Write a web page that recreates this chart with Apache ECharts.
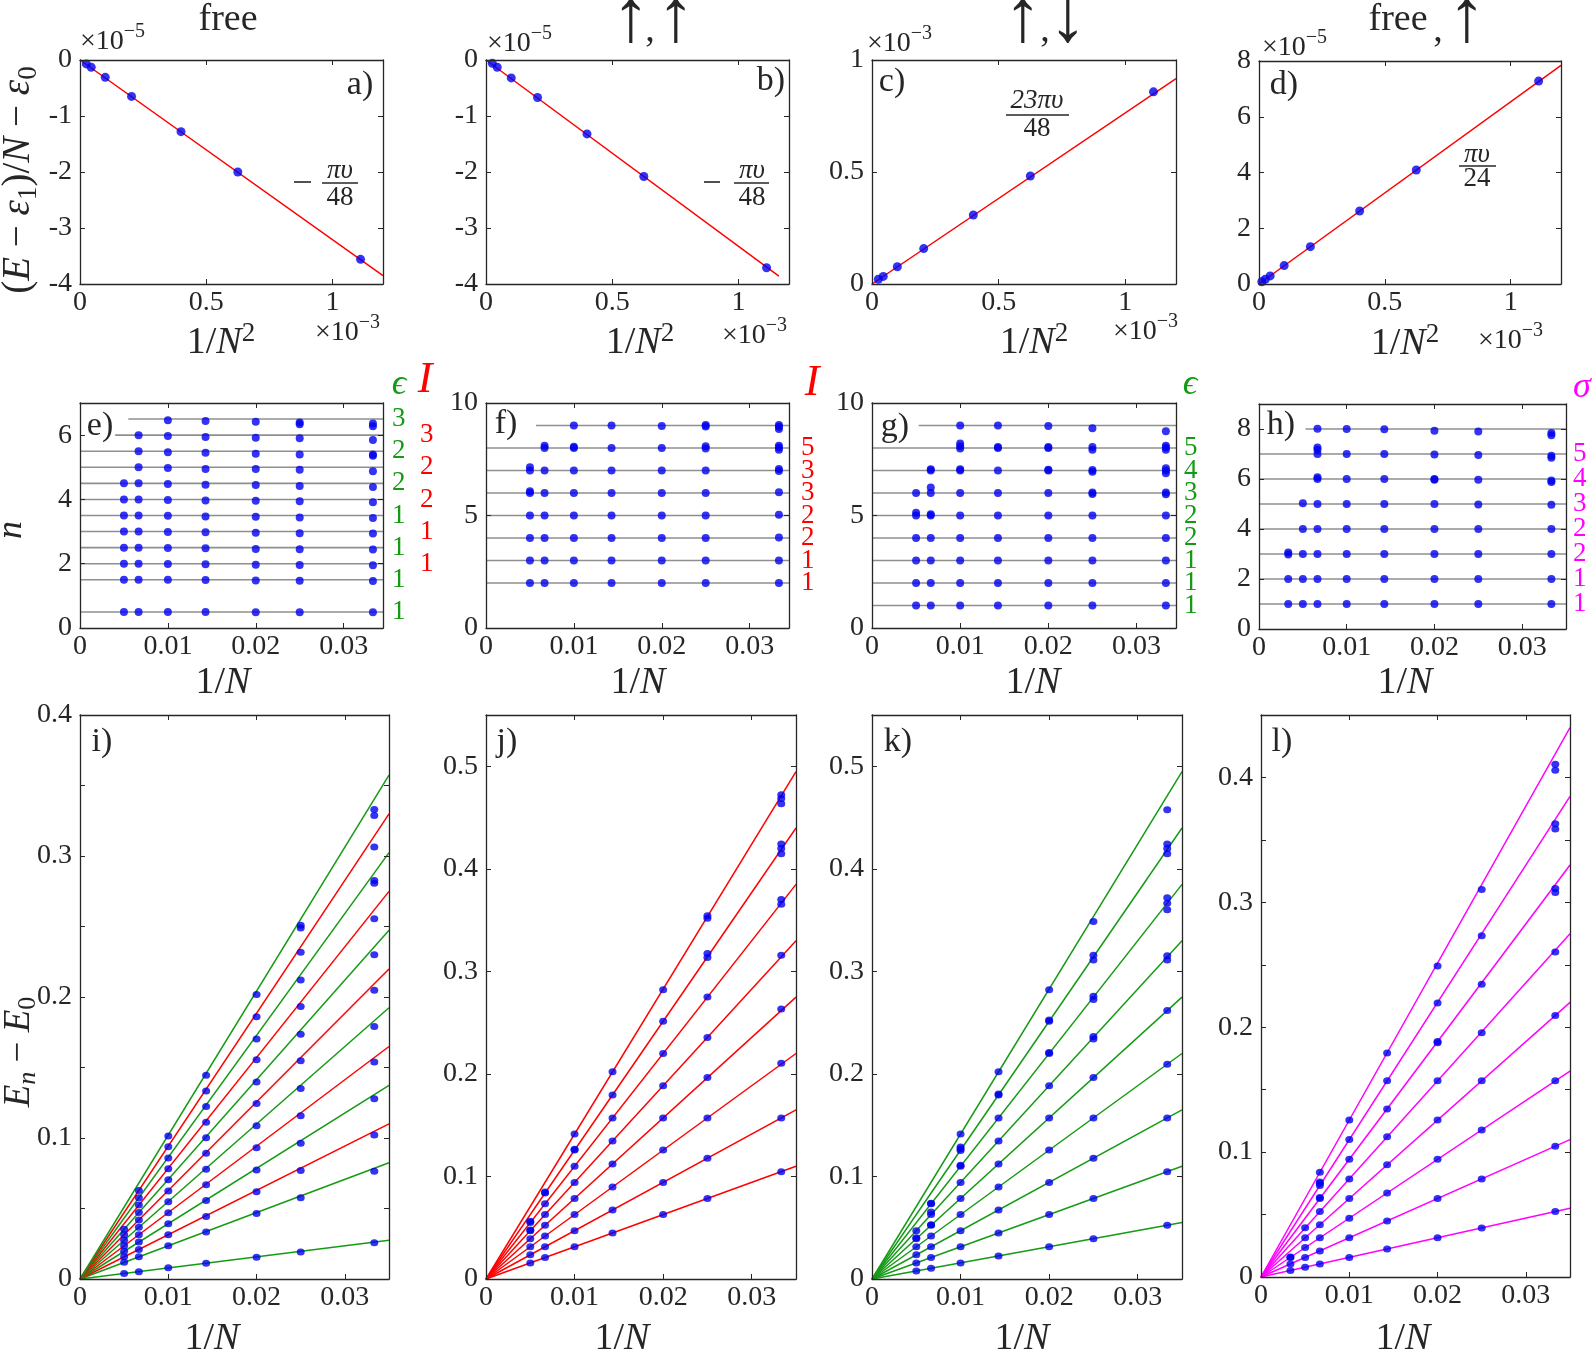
<!DOCTYPE html>
<html><head><meta charset="utf-8">
<script src="https://cdn.jsdelivr.net/npm/echarts@6/dist/echarts.min.js"></script>
<style>html,body{margin:0;padding:0;background:#fff}#c{width:1594px;height:1358px}</style>
</head><body><div id="c"></div>
<script>
const FONT = "'Liberation Serif','Times New Roman',Times,serif";
const INK = '#262626';
const BLUE = '#0000ee';
const RED = '#ff0000';
const GREEN = '#159a15';
const MAG = '#ff00ff';
const GRAY = '#8f8f8f';

// ================= DATA =================
// top row: x = 1/N^2  (N = 30,40,50,70,100,150,200 ; panel d also N = 300)
const topX = [1.1111e-3, 6.25e-4, 4.0e-4, 2.041e-4, 1.0e-4, 4.444e-5, 2.5e-5];
const dX   = [1.1111e-3, 6.25e-4, 4.0e-4, 2.041e-4, 1.0e-4, 4.444e-5, 2.5e-5, 1.111e-5];
const aY = [-3.56e-5, -2.00e-5, -1.28e-5, -0.65e-5, -0.31e-5, -0.13e-5, -0.07e-5];
const bY = [-3.71e-5, -2.08e-5, -1.32e-5, -0.67e-5, -0.32e-5, -0.13e-5, -0.06e-5];
const cY = [0.858e-3, 0.482e-3, 0.308e-3, 0.158e-3, 0.077e-3, 0.034e-3, 0.021e-3];
const dY = [7.28e-5, 4.09e-5, 2.62e-5, 1.34e-5, 0.66e-5, 0.29e-5, 0.17e-5, 0.08e-5];
const aFit = [[0, 0], [1.2e-3, -3.85e-5]];
const bFit = [[0, 0], [1.16e-3, -3.86e-5]];
const cFit = [[0, 0], [1.2e-3, 0.917e-3]];
const dFit = [[0, 0], [1.2e-3, 7.84e-5]];

// rows 2-3: x = 1/N
const colX7 = [0.005, 0.006667, 0.01, 0.014286, 0.02, 0.025, 0.033333];
const colX8 = [0.003333, 0.005, 0.006667, 0.01, 0.014286, 0.02, 0.025, 0.033333];

// scaled levels n (panels e-h), one list per column
const eN = [
  [0.5, 1.5, 2.0, 2.5, 3.0, 3.5, 4.0, 4.5],
  [0.5, 1.5, 2.0, 2.5, 3.0, 3.5, 4.0, 4.5, 5.0, 5.5, 6.0],
  [0.5, 1.5, 1.99, 2.49, 2.99, 3.49, 3.98, 4.48, 4.98, 5.47, 5.97, 6.46],
  [0.5, 1.49, 1.98, 2.48, 2.98, 3.47, 3.97, 4.46, 4.95, 5.45, 5.94, 6.44],
  [0.49, 1.48, 1.97, 2.46, 2.96, 3.46, 3.96, 4.45, 4.95, 5.42, 5.92, 6.42],
  [0.49, 1.47, 1.96, 2.45, 2.95, 3.44, 3.94, 4.42, 4.92, 5.40, 5.90, 6.39, 6.34],
  [0.49, 1.46, 1.95, 2.44, 2.94, 3.42, 3.91, 4.39, 4.88, 5.40, 5.36, 5.85, 6.36, 6.28]
];
const fN = [
  [2.0, 3.0, 4.0, 5.0, 6.0, 6.08, 7.0, 7.15],
  [2.0, 3.0, 4.0, 5.0, 6.0, 7.0, 8.0, 8.1],
  [2.0, 3.0, 4.0, 5.0, 6.0, 7.0, 8.0, 8.06, 9.0],
  [2.0, 3.0, 4.0, 5.0, 6.0, 7.0, 8.0, 9.0],
  [2.0, 3.0, 4.0, 5.0, 6.0, 7.0, 8.0, 8.98],
  [2.0, 3.0, 4.0, 5.0, 6.0, 7.0, 7.98, 8.08, 8.96, 9.02],
  [2.0, 3.0, 4.02, 5.03, 6.03, 6.98, 7.07, 7.92, 8.02, 8.1, 8.85, 8.95, 9.02]
];
const gN = [
  [1.0, 2.0, 3.0, 4.0, 5.0, 5.12, 6.0],
  [1.0, 2.0, 3.0, 4.0, 5.0, 5.06, 6.0, 6.25, 7.0, 7.06],
  [1.0, 2.0, 3.0, 4.0, 5.0, 6.0, 7.0, 7.06, 7.98, 8.08, 8.2, 9.0],
  [1.0, 2.0, 3.0, 4.0, 5.0, 6.0, 7.0, 8.0, 8.04, 9.0],
  [1.0, 2.0, 3.0, 4.0, 5.0, 6.0, 7.0, 7.03, 8.0, 8.04, 8.98],
  [1.0, 2.0, 3.0, 4.0, 5.0, 5.96, 6.02, 6.94, 7.02, 7.92, 8.04, 8.88],
  [1.0, 2.0, 3.0, 4.0, 5.0, 5.94, 6.02, 6.88, 7.0, 7.1, 7.92, 8.02, 8.1, 8.74]
];
const hN = [
  [1.0, 2.0, 2.98, 3.06],
  [1.0, 2.0, 3.0, 4.0, 5.03],
  [1.0, 2.0, 3.0, 4.0, 5.0, 6.0, 6.07, 7.0, 7.17, 7.26, 8.01],
  [1.0, 2.0, 3.0, 4.0, 5.0, 6.0, 7.0, 8.0],
  [1.0, 2.0, 3.0, 4.0, 5.0, 6.0, 7.0, 7.99],
  [1.0, 2.0, 3.0, 4.0, 5.0, 6.0, 5.97, 6.98, 7.93],
  [1.0, 2.0, 3.0, 4.0, 4.98, 5.97, 6.96, 7.9],
  [1.0, 2.0, 3.0, 4.0, 4.97, 5.94, 5.88, 6.93, 6.85, 7.84, 7.75]
];

// gaps E_n - E_0 (panels i-l), one list per column
const iE = [
  [0.0039, 0.0118, 0.0157, 0.0196, 0.0236, 0.0275, 0.0314, 0.0353],
  [0.0052, 0.0157, 0.0209, 0.0262, 0.0314, 0.0367, 0.0419, 0.0471, 0.0524, 0.0576, 0.0628],
  [0.0079, 0.0236, 0.0313, 0.0391, 0.0470, 0.0548, 0.0625, 0.0704, 0.0782, 0.0859, 0.0938, 0.1015],
  [0.0112, 0.0334, 0.0444, 0.0557, 0.0669, 0.0779, 0.0891, 0.1001, 0.1111, 0.1223, 0.1333, 0.1445],
  [0.0154, 0.0465, 0.0619, 0.0773, 0.0930, 0.1087, 0.1244, 0.1398, 0.1555, 0.1703, 0.1860, 0.2017],
  [0.0192, 0.0577, 0.0770, 0.0962, 0.1158, 0.1351, 0.1547, 0.1736, 0.1932, 0.2121, 0.2317, 0.2509, 0.2490],
  [0.0257, 0.0764, 0.1021, 0.1278, 0.1539, 0.1791, 0.2047, 0.2299, 0.2555, 0.2827, 0.2806, 0.3063, 0.3330, 0.3288]
];
const jE = [
  [0.0157, 0.0236, 0.0314, 0.0393, 0.0471, 0.0478, 0.0550, 0.0562],
  [0.0209, 0.0314, 0.0419, 0.0524, 0.0628, 0.0733, 0.0838, 0.0848],
  [0.0314, 0.0471, 0.0628, 0.0785, 0.0942, 0.1100, 0.1257, 0.1266, 0.1414],
  [0.0449, 0.0673, 0.0898, 0.1122, 0.1346, 0.1571, 0.1795, 0.2020],
  [0.0628, 0.0942, 0.1257, 0.1571, 0.1885, 0.2199, 0.2513, 0.2821],
  [0.0785, 0.1178, 0.1571, 0.1964, 0.2356, 0.2749, 0.3134, 0.3173, 0.3519, 0.3542],
  [0.1047, 0.1571, 0.2105, 0.2634, 0.3157, 0.3655, 0.3702, 0.4147, 0.4199, 0.4241, 0.4634, 0.4686, 0.4723]
];
const kE = [
  [0.0079, 0.0157, 0.0236, 0.0314, 0.0393, 0.0402, 0.0471],
  [0.0105, 0.0209, 0.0314, 0.0419, 0.0524, 0.0530, 0.0628, 0.0654, 0.0733, 0.0739],
  [0.0157, 0.0314, 0.0471, 0.0628, 0.0785, 0.0942, 0.1100, 0.1109, 0.1253, 0.1269, 0.1288, 0.1414],
  [0.0224, 0.0449, 0.0673, 0.0898, 0.1122, 0.1346, 0.1571, 0.1795, 0.1804, 0.2020],
  [0.0314, 0.0628, 0.0942, 0.1257, 0.1571, 0.1885, 0.2199, 0.2208, 0.2513, 0.2526, 0.2821],
  [0.0393, 0.0785, 0.1178, 0.1571, 0.1964, 0.2341, 0.2364, 0.2725, 0.2757, 0.3110, 0.3157, 0.3487],
  [0.0524, 0.1047, 0.1571, 0.2094, 0.2618, 0.3110, 0.3152, 0.3602, 0.3665, 0.3718, 0.4147, 0.4199, 0.4241, 0.4576]
];
const lE = [
  [0.0052, 0.0105, 0.0156, 0.0160],
  [0.0079, 0.0157, 0.0236, 0.0314, 0.0395],
  [0.0105, 0.0209, 0.0314, 0.0419, 0.0524, 0.0628, 0.0636, 0.0733, 0.0751, 0.0760, 0.0839],
  [0.0157, 0.0314, 0.0471, 0.0628, 0.0785, 0.0942, 0.1100, 0.1257],
  [0.0224, 0.0449, 0.0673, 0.0898, 0.1122, 0.1346, 0.1571, 0.1793],
  [0.0314, 0.0628, 0.0942, 0.1257, 0.1571, 0.1885, 0.1876, 0.2193, 0.2491],
  [0.0393, 0.0785, 0.1178, 0.1571, 0.1956, 0.2344, 0.2733, 0.3102],
  [0.0524, 0.1047, 0.1571, 0.2094, 0.2602, 0.3110, 0.3079, 0.3629, 0.3587, 0.4105, 0.4058]
];

// reference levels (gray lines, panels e-h) and where each line starts
const eLevels = [0.5, 1.5, 2, 2.5, 3, 3.5, 4, 4.5, 5, 5.5, 6, 6.5];
const eLevelStart = [0, 0, 0, 0, 0, 0, 0, 0, 0, 0, 0.004, 0.0055];
const fLevels = [2, 3, 4, 5, 6, 7, 8, 9];
const fLevelStart = [0, 0, 0, 0, 0, 0, 0, 0.0057];
const gLevels = [1, 2, 3, 4, 5, 6, 7, 8, 9];
const gLevelStart = [0, 0, 0, 0, 0, 0, 0, 0, 0.0053];
const hLevels = [1, 2, 3, 4, 5, 6, 7, 8];
const hLevelStart = [0, 0, 0, 0, 0, 0, 0, 0.0053];
const levelEndEFG = 0.03448;
const levelEndH = 0.035;

// straight lines through the origin (panels i-l): value at x = 0.035
const fitEndX = 0.035;
const iFitEnd = [0.0275, 0.0825, 0.1100, 0.1374, 0.1649, 0.1924, 0.2199, 0.2474, 0.2749, 0.3024, 0.3299, 0.3574];
const jFitEnd = [0.1100, 0.1649, 0.2199, 0.2749, 0.3299, 0.3848, 0.4398, 0.4948];
const kFitEnd = [0.0550, 0.1100, 0.1649, 0.2199, 0.2749, 0.3299, 0.3848, 0.4398, 0.4948];
const lFitEnd = [0.0550, 0.1100, 0.1649, 0.2199, 0.2749, 0.3299, 0.3848, 0.4398];

// degeneracy labels at the right of panels e-h
const eEpsAt = [0.5, 1.5, 2.5, 3.5, 4.5, 5.5, 6.5], eEpsTxt = ['1', '1', '1', '1', '2', '2', '3'];
const eIAt = [2, 3, 4, 5, 6], eITxt = ['1', '1', '2', '2', '3'];
const fIAt = [2, 3, 4, 5, 6, 7, 8], fITxt = ['1', '1', '2', '2', '3', '3', '5'];
const gEpsAt = [1, 2, 3, 4, 5, 6, 7, 8], gEpsTxt = ['1', '1', '1', '2', '2', '3', '4', '5'];
const hSigAt = [1, 2, 3, 4, 5, 6, 7], hSigTxt = ['1', '1', '2', '2', '3', '4', '5'];

// ================= BUILD =================
const grids = [
  {left: 80, top: 60, width: 303, height: 224},
  {left: 486, top: 60, width: 303, height: 224},
  {left: 872, top: 60, width: 304, height: 224},
  {left: 1259, top: 61, width: 302, height: 223},
  {left: 80, top: 403, width: 303, height: 225},
  {left: 486, top: 403, width: 303, height: 225},
  {left: 872, top: 403, width: 304, height: 225},
  {left: 1259, top: 404, width: 307, height: 225},
  {left: 80, top: 715, width: 309, height: 564},
  {left: 486, top: 715, width: 310, height: 564},
  {left: 872, top: 715, width: 310, height: 564},
  {left: 1261, top: 715, width: 309, height: 562}
];

const TICK_FS = 28;

function mk(scale, step) {
  return function (v) {
    const s = v * scale / step;
    const r = Math.round(s);
    if (Math.abs(s - r) > 1e-4) return '';
    const val = r * step;
    return Math.abs(val) < 1e-9 ? '0' : String(parseFloat(val.toFixed(6)));
  };
}

const xAxis = [], yAxis = [], series = [], graphic = [];

function axisCfg(gi, s, pos, showLabel, margin) {
  return {
    gridIndex: gi, type: 'value', position: pos, min: s.min, max: s.max, interval: s.interval,
    axisLine: {show: true, onZero: false, lineStyle: {color: INK, width: 1.3}},
    axisTick: {show: true, inside: true, length: 5, lineStyle: {color: INK, width: 1}},
    splitLine: {show: false},
    axisLabel: {show: showLabel, formatter: s.fmt, color: INK, fontFamily: FONT, fontSize: TICK_FS, margin: margin},
    z: 10
  };
}
function panel(gi, xs, ys) {
  const ix = xAxis.length, iy = yAxis.length;
  xAxis.push(axisCfg(gi, xs, 'bottom', true, 5), axisCfg(gi, xs, 'top', false, 5));
  yAxis.push(axisCfg(gi, ys, 'left', true, 8), axisCfg(gi, ys, 'right', false, 8));
  return {x: ix, y: iy};
}
function labelAxis(gi, min, max, step, at, txt, color, margin) {
  yAxis.push({
    gridIndex: gi, type: 'value', position: 'right', min: min, max: max, interval: step,
    axisLine: {show: false}, axisTick: {show: false}, splitLine: {show: false},
    axisLabel: {show: true, color: color, fontFamily: FONT, fontSize: 27, margin: margin,
      formatter: function (v) {
        const k = at.findIndex(function (l) { return Math.abs(l - v) < 1e-6; });
        return k >= 0 ? txt[k] : '';
      }}
  });
}
function addScatter(ax, pts, size) {
  series.push({type: 'scatter', xAxisIndex: ax.x, yAxisIndex: ax.y, data: pts, symbolSize: size,
    itemStyle: {color: BLUE}, z: 5, silent: true, animation: false});
}
function addLine(ax, pts, color, width) {
  series.push({type: 'line', xAxisIndex: ax.x, yAxisIndex: ax.y, data: pts, showSymbol: false, symbol: 'none',
    lineStyle: {color: color, width: width}, z: 3, silent: true, animation: false});
}
function zip(xs, ys) { return ys.map(function (y, k) { return [xs[k], y]; }); }
function cols(xs, c) { const out = []; c.forEach(function (col, k) { col.forEach(function (v) { out.push([xs[k], v]); }); }); return out; }

// --- top row ---
const xTop = {min: 0, max: 1.2e-3, interval: 5e-4, fmt: mk(1e3, 0.5)};
const A = panel(0, xTop, {min: -4e-5, max: 0, interval: 1e-5, fmt: mk(1e5, 1)});
const B = panel(1, xTop, {min: -4e-5, max: 0, interval: 1e-5, fmt: mk(1e5, 1)});
const C = panel(2, xTop, {min: 0, max: 1e-3, interval: 5e-4, fmt: mk(1e3, 0.5)});
const D = panel(3, xTop, {min: 0, max: 8e-5, interval: 2e-5, fmt: mk(1e5, 2)});
addLine(A, aFit, RED, 1.5); addScatter(A, zip(topX, aY), 9);
addLine(B, bFit, RED, 1.5); addScatter(B, zip(topX, bY), 9);
addLine(C, cFit, RED, 1.5); addScatter(C, zip(topX, cY), 9);
addLine(D, dFit, RED, 1.5); addScatter(D, zip(dX, dY), 9);

// --- middle row ---
const xMidA = {min: 0, max: levelEndEFG, interval: 0.01, fmt: mk(1, 0.01)};
const xMidH = {min: 0, max: levelEndH, interval: 0.01, fmt: mk(1, 0.01)};
const E = panel(4, xMidA, {min: 0, max: 7, interval: 2, fmt: mk(1, 2)});
const F = panel(5, xMidA, {min: 0, max: 10, interval: 5, fmt: mk(1, 5)});
const G = panel(6, xMidA, {min: 0, max: 10, interval: 5, fmt: mk(1, 5)});
const H = panel(7, xMidH, {min: 0, max: 9, interval: 2, fmt: mk(1, 2)});
function levelLines(ax, levels, starts, end) {
  levels.forEach(function (l, k) { addLine(ax, [[starts[k], l], [end, l]], GRAY, 1.6); });
}
levelLines(E, eLevels, eLevelStart, levelEndEFG);
levelLines(F, fLevels, fLevelStart, levelEndEFG);
levelLines(G, gLevels, gLevelStart, levelEndEFG);
levelLines(H, hLevels, hLevelStart, levelEndH);
addScatter(E, cols(colX7, eN), 8);
addScatter(F, cols(colX7, fN), 8);
addScatter(G, cols(colX7, gN), 8);
addScatter(H, cols(colX8, hN), 8);
labelAxis(4, 0, 7, 0.5, eEpsAt, eEpsTxt, GREEN, 9);
labelAxis(4, 0, 7, 0.5, eIAt, eITxt, RED, 37);
labelAxis(5, 0, 10, 1, fIAt, fITxt, RED, 12);
labelAxis(6, 0, 10, 1, gEpsAt, gEpsTxt, GREEN, 8);
labelAxis(7, 0, 9, 1, hSigAt, hSigTxt, MAG, 7);

// --- bottom row ---
const xBot = {min: 0, max: 0.035, interval: 0.01, fmt: mk(1, 0.01)};
const I = panel(8, xBot, {min: 0, max: 0.4, interval: 0.05, fmt: mk(1, 0.1)});
const J = panel(9, xBot, {min: 0, max: 0.55, interval: 0.1, fmt: mk(1, 0.1)});
const K = panel(10, xBot, {min: 0, max: 0.55, interval: 0.1, fmt: mk(1, 0.1)});
const L = panel(11, xBot, {min: 0, max: 0.45, interval: 0.05, fmt: mk(1, 0.1)});
eLevels.forEach(function (n, k) { addLine(I, [[0, 0], [fitEndX, iFitEnd[k]]], Number.isInteger(n) ? RED : GREEN, 1.5); });
jFitEnd.forEach(function (v) { addLine(J, [[0, 0], [fitEndX, v]], RED, 1.5); });
kFitEnd.forEach(function (v) { addLine(K, [[0, 0], [fitEndX, v]], GREEN, 1.5); });
lFitEnd.forEach(function (v) { addLine(L, [[0, 0], [fitEndX, v]], MAG, 1.5); });
addScatter(I, cols(colX7, iE), [8, 7]);
addScatter(J, cols(colX7, jE), [8, 7]);
addScatter(K, cols(colX7, kE), [8, 7]);
addScatter(L, cols(colX8, lE), [8, 7]);

// ================= TEXT =================
function T(x, y, text, size, o) {
  o = o || {};
  graphic.push({type: 'text', x: x, y: y, rotation: o.rot || 0, z: 100, silent: true,
    style: {text: text, fontSize: size, fontFamily: o.family || FONT, fontStyle: o.italic ? 'italic' : 'normal',
      fill: o.color || INK, align: o.align || 'center', verticalAlign: 'middle', rich: o.rich}});
}
function HL(x1, x2, y, w) {
  graphic.push({type: 'line', z: 100, silent: true, shape: {x1: x1, y1: y, x2: x2, y2: y}, style: {stroke: INK, lineWidth: w || 1.3}});
}
function richSet(size, lh) {
  const s2 = Math.round(size * 0.7);
  return {
    p: {fontSize: size, fontFamily: FONT, fill: INK, lineHeight: lh, verticalAlign: 'middle'},
    i: {fontSize: size, fontFamily: FONT, fontStyle: 'italic', fill: INK, lineHeight: lh, verticalAlign: 'middle'},
    sup: {fontSize: s2, fontFamily: FONT, fill: INK, lineHeight: s2, verticalAlign: 'top'},
    sub: {fontSize: s2, fontFamily: FONT, fill: INK, lineHeight: s2, verticalAlign: 'bottom'},
    subi: {fontSize: s2, fontFamily: FONT, fontStyle: 'italic', fill: INK, lineHeight: s2, verticalAlign: 'bottom'}
  };
}
// titles
T(228, 20, 'free', 38);
T(631, 21, '↑', 76);
T(650, 31, ',', 38);
T(676, 21, '↑', 76);
T(1023, 21, '↑', 76);
T(1045, 31, ',', 38);
T(1068, 21, '↓', 76);
T(1398, 20, 'free', 38);
T(1438, 31, ',', 38);
T(1467, 21, '↑', 76);
// panel letters
[['a)', 360, 85], ['b)', 771, 81], ['c)', 892, 82], ['d)', 1284, 85],
 ['e)', 100, 426], ['f)', 506, 424], ['g)', 895, 427], ['h)', 1281, 425],
 ['i)', 102, 742], ['j)', 507, 742], ['k)', 898, 742], ['l)', 1282, 742]].forEach(function (t) { T(t[1], t[2], t[0], 34); });
// axis titles
const r38 = richSet(38, 46);
[[221, 343], [640, 343], [1034, 343], [1405, 344]].forEach(function (p) {
  T(p[0], p[1], '{p|1/}{i|N}{sup|2}', 38, {rich: r38});
});
[[223, 683], [638, 683], [1033, 683], [1405, 683], [212, 1339], [622, 1339], [1022, 1339], [1403, 1339]].forEach(function (p) {
  T(p[0], p[1], '{p|1/}{i|N}', 38, {rich: r38});
});
T(19, 180, '{p|(}{i|E}{p| − }{i|ε}{sub|1}{p|)/}{i|N}{p| − }{i|ε}{sub|0}', 39, {rich: richSet(39, 46), rot: Math.PI / 2});
T(12, 530, 'n', 36, {italic: true, rot: Math.PI / 2});
T(19, 1052, '{i|E}{subi|n}{p| − }{i|E}{sub|0}', 37, {rich: richSet(37, 44), rot: Math.PI / 2});
// exponent labels
const r28 = richSet(28, 40);
[[80, 42, '−5'], [487, 44, '−5'], [867, 44, '−3'], [1262, 48, '−5'],
 [315, 333, '−3'], [722, 336, '−3'], [1113, 332, '−3'], [1478, 341, '−3']].forEach(function (p) {
  T(p[0], p[1], '{p|×10}{sup|' + p[2] + '}', 28, {rich: r28, align: 'left'});
});
// fractions
function frac(cx, top, num, den, x1, x2, ly, bot) {
  T(cx, top, num, 27, {italic: true});
  T(cx, bot, den, 27);
  HL(x1, x2, ly, 1.3);
}
frac(340, 171, 'πυ', '48', 322, 358, 183, 198);
HL(294, 311, 182, 1.6);
frac(752, 171, 'πυ', '48', 734, 769, 183, 198);
HL(704, 720, 182, 1.6);
frac(1037, 101, '23πυ', '48', 1006, 1069, 115, 129);
frac(1477, 155, 'πυ', '24', 1459, 1496, 166, 179);
// degeneracy headers
T(399, 385, 'ϵ', 36, {italic: true, color: GREEN});
T(425, 380, 'I', 44, {italic: true, color: RED});
T(812, 383, 'I', 44, {italic: true, color: RED});
T(1190, 385, 'ϵ', 36, {italic: true, color: GREEN});
T(1582, 388, 'σ', 36, {italic: true, color: MAG});

const chart = echarts.init(document.getElementById('c'), null, {renderer: 'canvas'});
chart.setOption({
  backgroundColor: '#ffffff',
  animation: false,
  grid: grids.map(function (g) { return Object.assign({show: false}, g); }),
  xAxis: xAxis,
  yAxis: yAxis,
  series: series,
  graphic: graphic
});
</script></body></html>
